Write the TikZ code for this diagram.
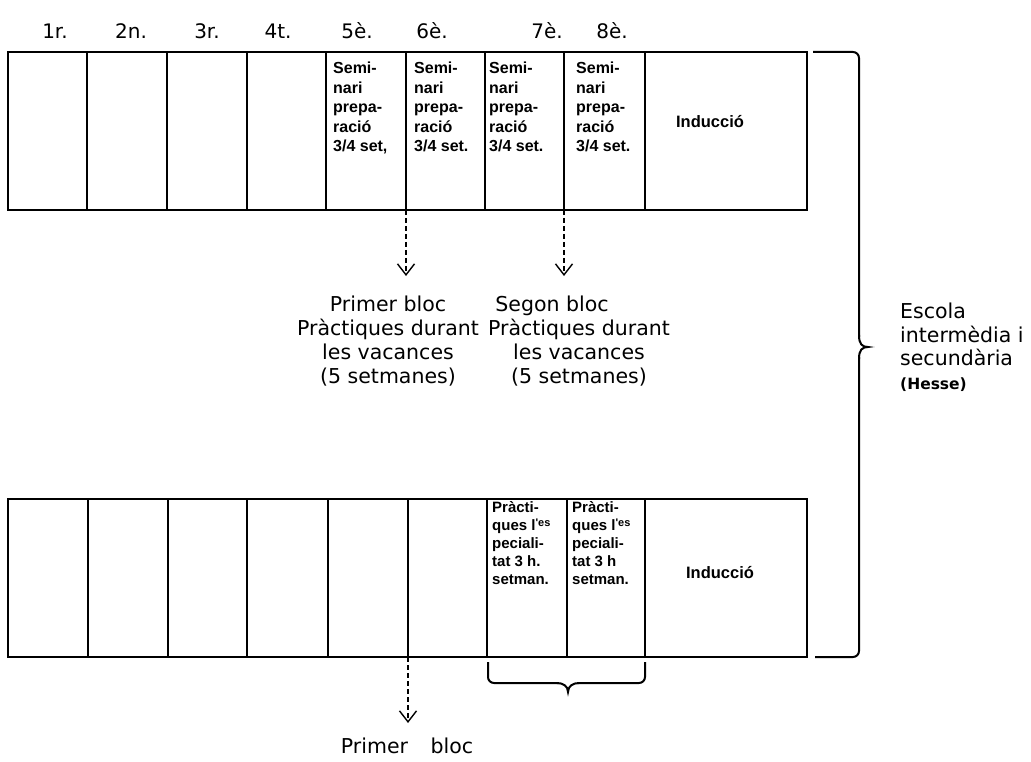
\documentclass[tikz,border=0pt]{standalone}
\usepackage{fontspec}
\setmainfont{DejaVu Sans}
\newfontfamily\cellfont{Liberation Sans}
\usetikzlibrary{arrows.meta}
\begin{document}
\begin{tikzpicture}[x=1pt,y=-1pt,
  cell/.style={draw, line width=2.4pt, anchor=north west, inner sep=0pt, outer sep=0pt, minimum height=158pt},
  celltext/.style={anchor=north west, inner sep=0pt, align=left, font=\cellfont\bfseries\fontsize{16}{19.5}\selectfont},
  celltextb/.style={celltext, font=\cellfont\bfseries\fontsize{15}{18}\selectfont},
  induc/.style={inner sep=0pt, font=\cellfont\bfseries\fontsize{16.5}{19}\selectfont},
  collabel/.style={inner sep=0pt, font=\fontsize{20}{24}\selectfont},
  blocktext/.style={inner sep=0pt, align=center, font=\fontsize{20.5}{24}\selectfont},
  darrow/.style={dash pattern=on 5pt off 3pt, line width=1.3pt, -{Straight Barb[length=11pt,width=17pt,line width=1.4pt]}},
  bracel/.style={line width=2pt}]
\useasboundingbox (0,0) rectangle (1031,762);

% column labels
\foreach \i/\x/\t in {1/55/1r., 2/131/2n., 3/207/3r., 4/278/4t., 5/357/5è., 6/432/6è., 7/547/7è., 8/612/8è.}
  \node[collabel] (l\i) at (\x,31) {\t};

% top row cells
\foreach \i/\l/\r in {1/8/87, 2/87/167, 3/167/247, 4/247/326, 5/326/406, 6/406/485, 7/485/564, 8/564/645, 9/645/807}
  \node[cell, minimum width={\r-\l}] (t\i) at (\l,52) {};

% bottom row cells
\foreach \i/\l/\r in {1/8/88, 2/88/168, 3/168/247, 4/247/328, 5/328/408, 6/408/487, 7/487/567, 8/567/645, 9/645/807}
  \node[cell, minimum width={\r-\l}] (b\i) at (\l,499) {};

% top cell texts
\node[celltext] (s5) at (333,62) {Semi-\\nari\\prepa-\\ració\\3/4 set,};
\node[celltext] (s6) at (414,62) {Semi-\\nari\\prepa-\\ració\\3/4 set.};
\node[celltext] (s7) at (489,62) {Semi-\\nari\\prepa-\\ració\\3/4 set.};
\node[celltext] (s8) at (576,62) {Semi-\\nari\\prepa-\\ració\\3/4 set.};
\node[induc] (ind1) at (710,122) {Inducció};

% bottom cell texts
\node[celltextb] (p7) at (492,501) {Pràcti-\\ques l\raisebox{4pt}{\fontsize{11}{11}\selectfont 'es}\\peciali-\\tat 3 h.\\setman.};
\node[celltextb] (p8) at (572,501) {Pràcti-\\ques l\raisebox{4pt}{\fontsize{11}{11}\selectfont 'es}\\peciali-\\tat 3 h\\setman.};
\node[induc] (ind2) at (720,573) {Inducció};

% dashed arrows
\coordinate (a1) at (406,276);
\coordinate (a2) at (564,276);
\coordinate (a3) at (408,723);
\draw[darrow] (t5.south east) -- (a1);
\draw[darrow] (t7.south east) -- (a2);
\draw[darrow] (b6.south west) -- (a3);

% block texts
\node[blocktext] (blk1) at (388,341) {Primer bloc\\Pràctiques durant\hspace*{34pt}\\les vacances\\(5 setmanes)};
\node[blocktext] (blk2) at (579,341) {Segon bloc\hspace*{54pt}\\Pràctiques durant\\les vacances\\(5 setmanes)};
\node[inner sep=0pt, font=\fontsize{20.5}{24}\selectfont] (blk3) at (407,746) {Primer\hspace{16pt} bloc};

% right text
\node[anchor=west, inner sep=0pt, align=left, font=\fontsize{20.5}{23.5}\selectfont] (esc) at (900,347)
  {Escola\\intermèdia i\\secundària\\{\bfseries\fontsize{15.5}{23.5}\selectfont (Hesse)}};

% right brace
\draw[bracel, rounded corners=6pt] (813,52) -- (859,52) -- (859,337);
\draw[bracel] (859,335) .. controls (859,344) and (862,347) .. (868,347) .. controls (862,347) and (859,350) .. (859,359);
\draw[bracel, rounded corners=6pt] (859,357) -- (859,657) -- (815,657);

% under brace
\draw[bracel, rounded corners=6pt] (488,662) -- (488,683) -- (559,683);
\draw[bracel] (557,683) .. controls (563,683) and (568,686) .. (568,692) .. controls (568,686) and (573,683) .. (579,683);
\draw[bracel, rounded corners=6pt] (577,683) -- (645,683) -- (645,662);
\end{tikzpicture}
\end{document}
